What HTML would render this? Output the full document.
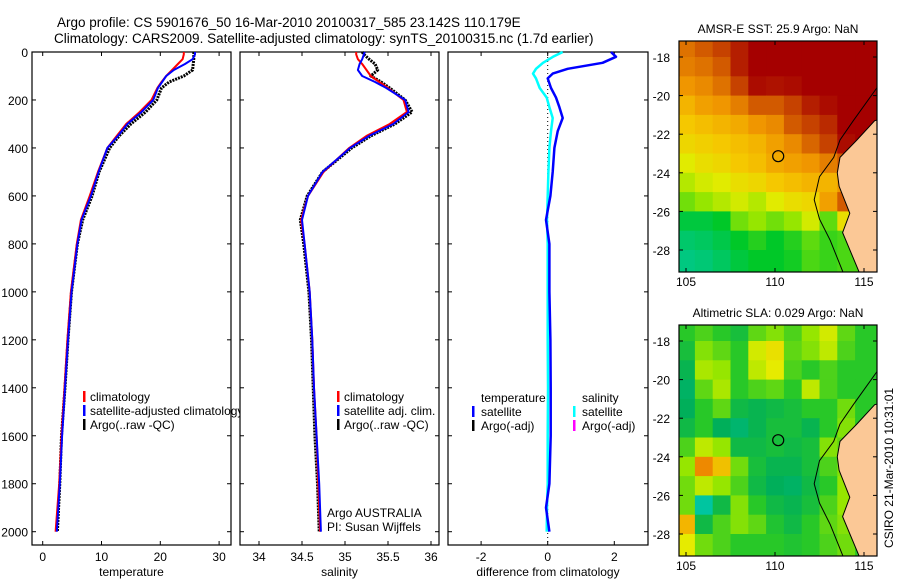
<!DOCTYPE html>
<html><head><meta charset="utf-8"><style>
html,body{margin:0;padding:0;background:#fff;}
svg{display:block;font-family:"Liberation Sans",sans-serif;}
</style></head><body>
<svg id="fig" width="900" height="580" viewBox="0 0 900 580" xmlns="http://www.w3.org/2000/svg">
<text x="57" y="27" font-size="13.5">Argo profile: CS 5901676_50 16-Mar-2010 20100317_585 23.142S 110.179E</text>
<text x="54" y="43" font-size="13.5">Climatology: CARS2009. Satellite-adjusted climatology: synTS_20100315.nc (1.7d earlier)</text>
<g id="g"></g>
</svg>
<script>
// ---------- DATA ----------
const depths = [0,10,30,50,75,100,125,150,200,250,300,350,400,500,600,700,800,1000,1200,1400,1600,1800,2000];
const tempClim = [24.0,24.0,23.8,23.0,22.0,21.0,20.2,19.5,18.5,16.5,14.2,12.6,11.0,9.4,8.0,6.5,5.8,4.8,4.2,3.7,3.2,2.8,2.2];
const tempSat  = [25.9,25.9,25.5,24.2,22.3,21.0,20.3,19.6,18.8,16.8,14.4,12.8,11.0,9.5,8.2,6.6,5.9,4.9,4.3,3.8,3.3,2.9,2.4];
const tempArgo = [25.7,25.7,25.7,25.6,25.5,24.0,21.5,20.2,19.4,17.5,15.0,13.0,11.4,9.6,8.4,6.8,5.9,4.9,4.3,3.8,3.2,2.9,2.5];
const salClim = [35.13,35.13,35.15,35.2,35.25,35.3,35.4,35.5,35.68,35.72,35.52,35.25,35.05,34.75,34.57,34.49,34.53,34.59,34.62,34.64,34.67,34.69,34.71];
const salSat  = [35.23,35.22,35.2,35.17,35.15,35.2,35.35,35.48,35.7,35.74,35.56,35.28,35.06,34.74,34.57,34.5,34.53,34.59,34.62,34.64,34.67,34.7,34.72];
const salArgo = [35.2,35.22,35.28,35.35,35.38,35.3,35.42,35.52,35.7,35.78,35.58,35.3,35.08,34.74,34.56,34.48,34.52,34.58,34.61,34.63,34.65,34.68,34.70];
const diffDepths = [0,20,45,70,90,110,150,190,230,275,330,400,500,600,700,800,1000,1200,1400,1600,1800,1900,2000];
const tempDiff = [1.9,2.05,1.65,0.6,0.15,0.0,0.1,0.25,0.35,0.45,0.3,0.2,0.15,0.08,-0.05,0.05,0.05,0.08,0.09,0.09,0.05,-0.05,0.05];
const salDiff  = [0.45,0.16,-0.14,-0.35,-0.44,-0.35,-0.24,-0.03,0.05,0.15,0.1,0.05,0.02,0.0,-0.02,0.0,0.0,0.0,0.01,0.0,0.0,-0.02,-0.03];
const depthTicks = [0,200,400,600,800,1000,1200,1400,1600,1800,2000];
const tempTicks = [0,10,20,30];
const salTicks = [34,34.5,35,35.5,36];
const diffTicks = [-2,0,2];
const mapLons = [105,106,107,108,109,110,111,112,113,114,115];
const mapLats = [-17.5,-18.5,-19.5,-20.5,-21.5,-22.5,-23.5,-24.5,-25.5,-26.5,-27.5,-28.5];
const lonTicks = [105,110,115];
const latTicks = [-18,-20,-22,-24,-26,-28];
const sstGrid = [
[25.6,25.8,26.0,26.3,27,27,27,27,27,27,27],
[25.5,25.6,25.8,26.3,26.8,27,27,27,27,27,27],
[25.3,25.4,25.6,26.0,26.6,26.5,26.6,26.8,27,27,27],
[25.0,25.2,25.3,25.5,25.8,25.8,26.0,26.3,26.6,27,27],
[24.8,24.9,25.0,25.1,25.3,25.4,25.8,26.0,26.2,26.8,27],
[24.6,24.7,24.8,24.9,25.0,25.2,25.4,25.7,26.0,26.6,27],
[24.3,24.5,24.6,24.8,24.9,25.1,25.2,25.3,25.5,25.8,26],
[24.0,24.2,24.3,24.5,24.6,24.8,24.9,25.0,25.0,25.3,25.5],
[23.6,23.8,24.0,24.2,24.0,24.3,24.5,24.6,25.2,25.8,25.5],
[22.8,22.8,23.0,23.6,23.8,23.6,23.8,24.2,23.5,24.5,24.5],
[22.4,22.5,22.7,23.0,23.2,23.0,23.2,23.5,23.3,23.4,23.4],
[22.2,22.3,22.5,22.8,23.0,23.0,23.1,23.4,23.3,23.4,23.4]];
const slaGrid = [
[0.0,0.02,0.0,-0.02,0.03,0.05,0.02,0.06,0.09,0.03,0.0],
[-0.02,0.05,0.03,0.0,0.09,0.11,0.03,0.05,0.08,0.02,0.0],
[-0.04,0.07,0.06,0.0,0.08,0.1,0.02,0.0,0.02,0.0,0.0],
[-0.06,0.03,0.07,0.0,0.02,0.03,0.0,0.08,0.02,0.0,0.0],
[-0.05,0.0,0.03,-0.03,-0.04,-0.03,-0.02,0.0,0.0,0.04,0.0],
[-0.03,0.0,-0.05,-0.07,-0.04,-0.02,-0.02,-0.04,0.0,0.05,0.0],
[0.02,0.08,0.06,-0.03,-0.03,-0.02,-0.03,-0.02,0.05,0.03,0.0],
[0.06,0.2,0.14,0.04,-0.02,-0.04,-0.04,-0.02,0.02,0.05,0.0],
[0.04,0.08,0.06,0.02,-0.03,-0.05,-0.06,-0.03,0.0,0.06,0.0],
[0.04,-0.12,-0.03,0.05,0.0,-0.03,-0.04,-0.02,0.02,0.06,0.0],
[0.15,-0.03,0.02,0.05,0.03,-0.01,-0.03,0.0,0.03,0.05,0.0],
[0.1,0.04,0.02,0.0,0.0,0.0,-0.01,0.0,0.02,0.04,0.0]];
const landLon = [116.0,115.6,114.6,113.65,113.5,113.6,114.2,113.8,114.8,116.0];
const landLat = [-21.2,-21.3,-22.3,-23.2,-24.0,-24.7,-26.1,-27.1,-29.3,-29.3];
const shelfLon = [115.8,114.4,113.65,113.3,112.5,112.2,112.5,113.1,113.8,113.9];
const shelfLat = [-19.5,-21.3,-22.3,-23.2,-24.2,-25.4,-26.4,-27.5,-29.1,-29.3];
const floatLon = 110.18, floatLat = -23.14;

// ---------- HELPERS ----------
const NS = "http://www.w3.org/2000/svg";
const G = document.getElementById('g');
function mk(tag, attrs, parent){ const e=document.createElementNS(NS,tag); for(const k in attrs) e.setAttribute(k,attrs[k]); (parent||G).appendChild(e); return e; }
function txt(x,y,s,size,anchor,parent){ const t=mk('text',{x:x,y:y,'font-size':size,'text-anchor':anchor||'start'},parent); t.textContent=s; return t; }
const yDepth = d => 52 + d*(531.7-52)/2000;

function panel(name, x0, x1, xs, xTicks, xTickFmt, xlabel){
  const g = mk('g',{});
  
  
  const bg = mk('rect',{x:x0,y:52,width:x1-x0,height:493,fill:'#fff',stroke:'#000','stroke-width':1.2},g);
  
  
  depthTicks.forEach(d=>{
    const y=yDepth(d);
    mk('line',{x1:x0,x2:x0+4,y1:y,y2:y,stroke:'#000'},g);
    mk('line',{x1:x1-4,x2:x1,y1:y,y2:y,stroke:'#000'},g);
  });
  xTicks.forEach(v=>{
    const x=xs(v);
    mk('line',{x1:x,x2:x,y1:52,y2:56,stroke:'#000'},g);
    mk('line',{x1:x,x2:x,y1:541,y2:545,stroke:'#000'},g);
    const t=txt(x,561,xTickFmt(v),12,'middle',g);
    
    
  });
  const xl=txt((x0+x1)/2,576,xlabel,12,'middle',g);
  
  
  return g;
}
function line(g, xs, xv, dv, color, w, dash, nm){
  const pts = xv.map((v,i)=>xs(v).toFixed(1)+','+yDepth(dv[i]).toFixed(1)).join(' ');
  const p = mk('polyline',{points:pts,fill:'none',stroke:color,'stroke-width':w,'stroke-linejoin':'round'},g);
  if(dash) p.setAttribute('stroke-dasharray',dash);
  
  
}
function legendBar(g,x,y,color){ mk('rect',{x:x,y:y-10,width:2.5,height:11,fill:color},g); }

// ---------- PANEL 1: temperature ----------
const xT = v => 42.7 + v*5.88;
const p1 = panel('temperature-panel',32,231,xT,tempTicks,v=>String(v),'temperature');
depthTicks.forEach(d=>{ const t=txt(28,yDepth(d)+5,String(d),12,'end');   });
line(p1,xT,tempArgo,depths,'#000',3,'2,1','temp-argo-line');
line(p1,xT,tempClim,depths,'#f00',2,null,'temp-climatology-line');
line(p1,xT,tempSat,depths,'#00f',2,null,'temp-satellite-line');
legendBar(p1,83,401,'#f00'); txt(90,401,'climatology',12,'start',p1);
legendBar(p1,83,415,'#00f'); txt(90,415,'satellite-adjusted climatology',12,'start',p1);
legendBar(p1,83,429,'#000'); txt(90,429,'Argo(..raw -QC)',12,'start',p1);

// ---------- PANEL 2: salinity ----------
const xS = v => 259 + (v-34)*86;
const p2 = panel('salinity-panel',240,439,xS,salTicks,v=>String(v),'salinity');
line(p2,xS,salArgo,depths,'#000',3,'2,1','sal-argo-line');
line(p2,xS,salClim,depths,'#f00',2,null,'sal-climatology-line');
line(p2,xS,salSat,depths,'#00f',2,null,'sal-satellite-line');
legendBar(p2,337,401,'#f00'); txt(344,401,'climatology',12,'start',p2);
legendBar(p2,337,415,'#00f'); txt(344,415,'satellite adj. clim.',12,'start',p2);
legendBar(p2,337,429,'#000'); txt(344,429,'Argo(..raw -QC)',12,'start',p2);
txt(327,517,'Argo AUSTRALIA',12,'start',p2);
txt(327,531,'PI: Susan Wijffels',12,'start',p2);

// ---------- PANEL 3: differences ----------
const xD = v => 547.7 + v*33.3;
const p3 = panel('difference-panel',448,648,xD,diffTicks,v=>v<0?'-'+Math.abs(v):String(v),'difference from climatology');
mk('line',{x1:xD(0),x2:xD(0),y1:53,y2:544,stroke:'#000','stroke-dasharray':'1,3'},p3);
line(p3,xD,salDiff,diffDepths,'#0ff',2.5,null,'sal-diff-line');
line(p3,xD,tempDiff,diffDepths,'#00f',2.5,null,'temp-diff-line');
txt(481,402,'temperature',12,'start',p3);
legendBar(p3,472,416,'#00f'); txt(481,416,'satellite',12,'start',p3);
legendBar(p3,472,430,'#000'); txt(481,430,'Argo(-adj)',12,'start',p3);
txt(582,402,'salinity',12,'start',p3);
legendBar(p3,573,416,'#0ff'); txt(582,416,'satellite',12,'start',p3);
legendBar(p3,573,430,'#f0f'); txt(582,430,'Argo(-adj)',12,'start',p3);

// ---------- MAPS ----------
function cmap(v, stops){
  if(v<=stops[0][0]) return 'rgb('+stops[0][1].join(',')+')';
  for(let i=1;i<stops.length;i++){
    if(v<=stops[i][0]){
      const a=stops[i-1],b=stops[i],t=(v-a[0])/(b[0]-a[0]);
      return 'rgb('+a[1].map((c,k)=>Math.round(c+(b[1][k]-c)*t)).join(',')+')';
    }
  }
  return 'rgb('+stops[stops.length-1][1].join(',')+')';
}
const sstStops=[[22,[0,200,150]],[23,[0,200,40]],[23.8,[150,230,0]],[24.3,[225,235,0]],[24.8,[245,200,0]],[25.3,[240,150,0]],[25.8,[210,90,0]],[26.3,[180,30,0]],[26.8,[165,0,0]]];
const slaStops=[[-0.13,[0,200,170]],[-0.05,[0,175,90]],[0,[40,200,40]],[0.06,[150,230,0]],[0.1,[230,235,0]],[0.16,[245,170,0]],[0.22,[235,120,0]]];

function map(name, top, bottom, grid, stops, title){
  const L=679,R=877;
  const xL = lon => 686 + (lon-105)*17.8;
  const yL = lat => top + 16 + (-18-lat)*19.3;
  const g = mk('g',{});
  
  
  const cp = mk('clipPath',{id:name+'-clip'},g);
  mk('rect',{x:L,y:top,width:R-L,height:bottom-top},cp);
  const cells = mk('g',{'clip-path':'url(#'+name+'-clip)'},g);
  mapLats.forEach((lat,r)=>{
    mapLons.forEach((lon,c)=>{
      const x0=xL(lon-0.5), x1=xL(c===mapLons.length-1?lon+1.5:lon+0.5);
      const y0=yL(lat+(r===0?1.5:0.5)), y1=yL(lat-(r===mapLats.length-1?1.5:0.5));
      const cell=mk('rect',{x:x0.toFixed(1),y:y0.toFixed(1),width:(x1-x0+0.6).toFixed(1),height:(y1-y0+0.6).toFixed(1),fill:cmap(grid[r][c],stops)},cells);
      
      
    });
  });
  const land = mk('polygon',{points:landLon.map((lo,i)=>xL(lo).toFixed(1)+','+yL(landLat[i]).toFixed(1)).join(' '),fill:'#fbc896',stroke:'#000','stroke-width':1},cells);
  
  
  const shelf = mk('polyline',{points:shelfLon.map((lo,i)=>xL(lo).toFixed(1)+','+yL(shelfLat[i]).toFixed(1)).join(' '),fill:'none',stroke:'#000','stroke-width':1},cells);
  
  
  const fc = mk('circle',{cx:xL(floatLon),cy:yL(floatLat),r:5.5,fill:'none',stroke:'#000','stroke-width':1.2},g);
  
  
  mk('rect',{x:L,y:top,width:R-L,height:bottom-top,fill:'none',stroke:'#000','stroke-width':1.2},g);
  latTicks.forEach(lat=>{
    const y=yL(lat);
    mk('line',{x1:L,x2:L+4,y1:y,y2:y,stroke:'#000'},g);
    mk('line',{x1:R-4,x2:R,y1:y,y2:y,stroke:'#000'},g);
    const t=txt(L-9,y+5,String(lat),12,'end',g);
    
    
  });
  lonTicks.forEach(lon=>{
    const x=xL(lon);
    mk('line',{x1:x,x2:x,y1:top,y2:top+4,stroke:'#000'},g);
    mk('line',{x1:x,x2:x,y1:bottom-4,y2:bottom,stroke:'#000'},g);
    const t=txt(x,bottom+14,String(lon),12,'middle',g);
    
    
  });
  const tt=txt((L+R)/2,top-8,title,12,'middle',g);
  
  
}
map('sst-map',41,272,sstGrid,sstStops,'AMSR-E SST: 25.9 Argo: NaN');
map('sla-map',325,556,slaGrid,slaStops,'Altimetric SLA: 0.029 Argo: NaN');
const stamp=txt(0,0,'CSIRO 21-Mar-2010 10:31:01',12,'middle');
stamp.setAttribute('transform','translate(893,468) rotate(-90)');


</script>
</body></html>
